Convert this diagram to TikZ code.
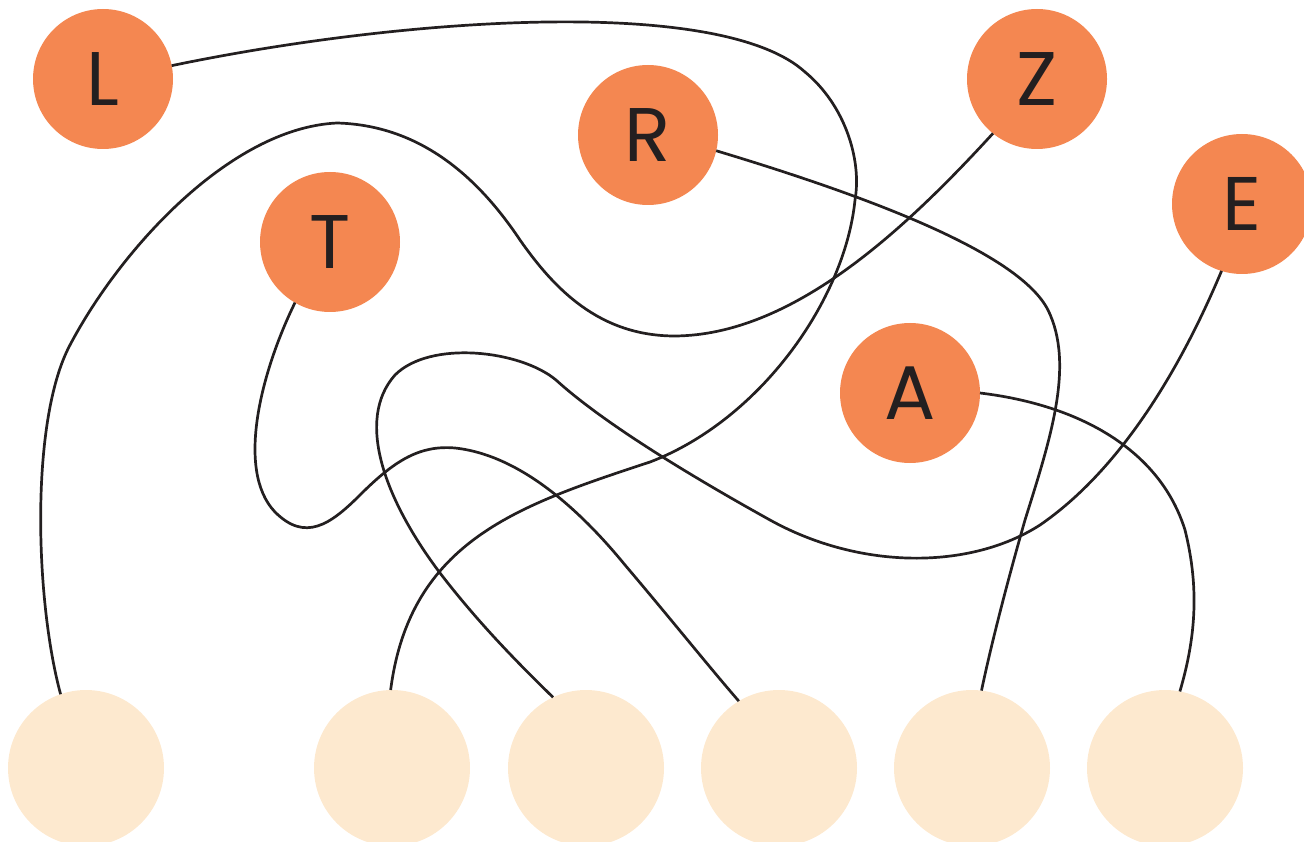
\documentclass[tikz,border=0pt]{standalone}
\usepackage{fontspec}
\setmainfont{Poppins}
\usetikzlibrary{positioning}
\definecolor{dotorange}{HTML}{F48751}
\definecolor{slotcream}{HTML}{FDE9CF}
\definecolor{wirecol}{HTML}{231F20}
\tikzstyle{letter} = [circle,fill=dotorange,minimum size=140pt,inner sep=0pt,outer sep=0pt,text=wirecol,font=\fontsize{76}{76}\selectfont]
\tikzstyle{slot} = [circle,fill=slotcream,minimum size=156pt,inner sep=0pt,outer sep=0pt]
\tikzstyle{wire} = [draw=wirecol,line width=2.7pt]

\begin{document}
\begin{tikzpicture}[x=1pt,y=-1pt,on grid]
	\useasboundingbox (0,0) rectangle (1304,842);
	\node[letter](L) at (103,79){L};
	\node[letter](R) at (648,135){R};
	\node[letter](T) at (330,242){T};
	\node[letter](Z) at (1037,79){Z};
	\node[letter](E) at (1242,204){E};
	\node[letter](A) at (910,393){A};
	\node[slot](s_1) at (86,768){};
	\node[slot][right=306pt of s_1](s_2){};
	\node[slot][right=194pt of s_2](s_3){};
	\node[slot][right=193pt of s_3](s_4){};
	\node[slot][right=193pt of s_4](s_5){};
	\node[slot][right=193pt of s_5](s_6){};
	\draw[wire] (L.11) .. controls (400,18) and (720,-5) .. (805,72)
		.. controls (845,105) and (862,160) .. (855,200)
		.. controls (845,300) and (760,420) .. (650,462)
		.. controls (520,505) and (410,540) .. (s_2.91);
	\draw[wire] (R.-13) .. controls (880,200) and (1020,255) .. (1048,310)
		.. controls (1075,365) and (1050,440) .. (1025,520)
		.. controls (1005,590) and (990,650) .. (s_5.83);
	\draw[wire] (Z.231) .. controls (900,235) and (790,335) .. (675,336)
		.. controls (600,336) and (555,290) .. (520,240)
		.. controls (470,165) and (410,125) .. (337,123)
		.. controls (230,128) and (120,250) .. (70,345)
		.. controls (30,420) and (35,600) .. (s_1.109);
	\draw[wire] (T.240) .. controls (262,370) and (235,470) .. (275,512)
		.. controls (305,542) and (330,525) .. (360,495)
		.. controls (395,460) and (420,445) .. (455,448)
		.. controls (520,455) and (580,510) .. (625,565)
		.. controls (670,618) and (710,668) .. (s_4.121);
	\draw[wire] (E.253) .. controls (1180,370) and (1120,470) .. (1040,525)
		.. controls (970,570) and (860,570) .. (770,520)
		.. controls (680,470) and (600,420) .. (556,380)
		.. controls (520,350) and (430,340) .. (395,375)
		.. controls (355,420) and (385,500) .. (440,573)
		.. controls (480,625) and (520,665) .. (s_3.115);
	\draw[wire] (A.east) .. controls (1080,405) and (1160,450) .. (1185,530)
		.. controls (1200,590) and (1195,640) .. (s_6.79);
\end{tikzpicture}
\end{document}
